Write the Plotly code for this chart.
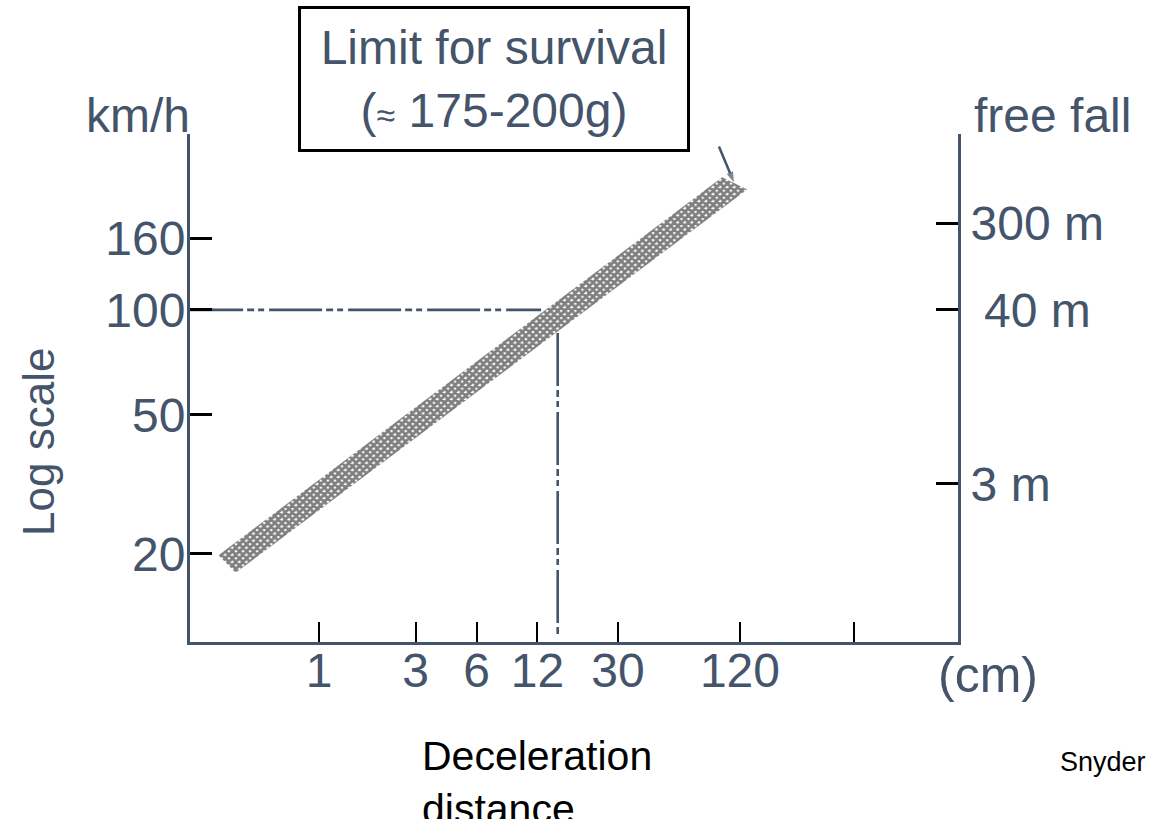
import plotly.graph_objects as go

# ---------------- data ----------------
# Left axis: speed (km/h), log scale
SPEED_TICKS = [20, 50, 100, 160]
SPEED_LABELS = ["20", "50", "100", "160"]

# Bottom axis: deceleration distance (cm), log scale
DIST_TICKS = [1, 3, 6, 12, 30, 120, 440]
DIST_LABELS = ["1", "3", "6", "12", "30", "120", ""]

# Right axis: equivalent free-fall height, placed at the speed it sits beside
FALL_TICK_KMH = [31.7, 100, 177]
FALL_LABELS = ["3 m", "\u00a040 m", "300 m"]

# Survival-limit band (corners: upper edge then lower edge, reversed)
BAND_CM = [0.319, 98.1, 130.3, 0.388, 0.319]
BAND_KMH = [19.8, 239.8, 221.4, 17.65, 19.8]

# Reading guides: 100 km/h -> ~15 cm
GUIDE_H_CM = [0.231, 12.5]
GUIDE_H_KMH = [100, 100]
GUIDE_V_CM = [15.1, 15.1]
GUIDE_V_KMH = [85.8, 11.7]

# Pointer from the boxed label to the top of the band
ARROW_CM = [94.5, 112]
ARROW_KMH = [294, 232]

X_RANGE_LOG = [-0.637, 3.156]
Y_RANGE_LOG = [1.048, 2.504]

SLATE = "#44546A"
FONT = "Liberation Sans, Arial, sans-serif"
DASH = "53px,4px,7px,4px,6px,5px"

fig = go.Figure()

fig.add_trace(go.Scatter(
    x=GUIDE_H_CM, y=GUIDE_H_KMH, mode="lines",
    line=dict(color=SLATE, width=2.6, dash=DASH),
    hoverinfo="skip", showlegend=False))
fig.add_trace(go.Scatter(
    x=GUIDE_V_CM, y=GUIDE_V_KMH, mode="lines",
    line=dict(color=SLATE, width=2.6, dash=DASH),
    hoverinfo="skip", showlegend=False))

fig.add_trace(go.Scatter(
    x=BAND_CM, y=BAND_KMH, mode="lines", fill="toself",
    line=dict(width=0, color="rgba(0,0,0,0)"),
    fillcolor="white",
    fillpattern=dict(shape="x", size=5, solidity=0.8,
                     fgcolor="black", bgcolor="white"),
    hoverinfo="skip", showlegend=False))

fig.add_trace(go.Scatter(
    x=ARROW_CM, y=ARROW_KMH, mode="lines+markers",
    line=dict(color=SLATE, width=2.5),
    marker=dict(symbol=["circle", "arrow"], size=[0, 11],
                angleref="previous", color=SLATE,
                line=dict(width=0)),
    hoverinfo="skip", showlegend=False))

# empty trace so the right axis is drawn
fig.add_trace(go.Scatter(x=[None], y=[None], yaxis="y2",
                         hoverinfo="skip", showlegend=False))

fig.update_layout(
    width=1155, height=819,
    margin=dict(l=190, r=197, t=134, b=177),
    paper_bgcolor="white", plot_bgcolor="white",
    font=dict(family=FONT, color=SLATE, size=48),
    showlegend=False,
    xaxis=dict(
        type="log", range=X_RANGE_LOG,
        tickvals=DIST_TICKS, ticktext=DIST_LABELS,
        ticks="inside", ticklen=20, tickwidth=2, tickcolor="black",
        showline=True, linecolor=SLATE, linewidth=3,
        showgrid=False, zeroline=False,
        tickfont=dict(size=48, color=SLATE, family=FONT),
        ticklabelstandoff=-16,
    ),
    yaxis=dict(
        type="log", range=Y_RANGE_LOG,
        tickvals=SPEED_TICKS, ticktext=SPEED_LABELS,
        ticks="inside", ticklen=22, tickwidth=3, tickcolor="black",
        showline=True, linecolor=SLATE, linewidth=3,
        showgrid=False, zeroline=False,
        tickfont=dict(size=48, color=SLATE, family=FONT),
        ticklabelstandoff=-8,
    ),
    yaxis2=dict(
        type="log", range=Y_RANGE_LOG, overlaying="y", side="right",
        tickvals=FALL_TICK_KMH, ticktext=FALL_LABELS,
        ticks="inside", ticklen=22, tickwidth=3, tickcolor="black",
        showline=True, linecolor=SLATE, linewidth=3,
        showgrid=False, zeroline=False,
        tickfont=dict(size=48, color=SLATE, family=FONT),
        ticklabelstandoff=0,
    ),
)

ann = []
# boxed title
ann.append(dict(
    xref="paper", yref="paper", x=0.3952, y=1.1083,
    xanchor="center", yanchor="middle",
    text="Limit for survival<br>(<span style='font-size:34px'>\u2248</span> 175-200g)",
    showarrow=False, align="center",
    font=dict(size=48, color=SLATE, family=FONT),
    bordercolor="black", borderwidth=3, borderpad=4,
    width=378, height=132, bgcolor="white"))
# axis unit labels
ann.append(dict(
    xref="paper", yref="paper", x=0, y=1, xanchor="right", yanchor="bottom",
    yshift=-10, xshift=2, text="km/h", showarrow=False,
    font=dict(size=48, color=SLATE, family=FONT)))
ann.append(dict(
    xref="paper", yref="paper", x=1, y=1, xanchor="left", yanchor="bottom",
    yshift=-10, xshift=14, text="free fall", showarrow=False,
    font=dict(size=48, color=SLATE, family=FONT)))
ann.append(dict(
    xref="paper", yref="paper", x=-0.198, y=0.3937,
    xanchor="center", yanchor="middle", textangle=-90,
    text="Log scale", showarrow=False,
    font=dict(size=44, color=SLATE, family=FONT)))
ann.append(dict(
    xref="paper", yref="paper", x=1.039, y=-0.065,
    xanchor="center", yanchor="middle",
    text="(cm)", showarrow=False,
    font=dict(size=50, color=SLATE, family=FONT)))
ann.append(dict(
    xref="paper", yref="paper", x=0.2995, y=-0.175,
    xanchor="left", yanchor="top", align="left",
    text="Deceleration<br>distance", showarrow=False,
    font=dict(size=41, color="black", family=FONT)))
ann.append(dict(
    xref="paper", yref="paper", x=1.130, y=-0.236,
    xanchor="left", yanchor="middle",
    text="Snyder", showarrow=False,
    font=dict(size=27, color="black", family=FONT)))

fig.update_layout(annotations=ann)

fig.write_html(
    "out.html",
    config={"displayModeBar": False},
    post_script="document.body.style.margin='0';document.body.style.overflow='hidden';",
)
